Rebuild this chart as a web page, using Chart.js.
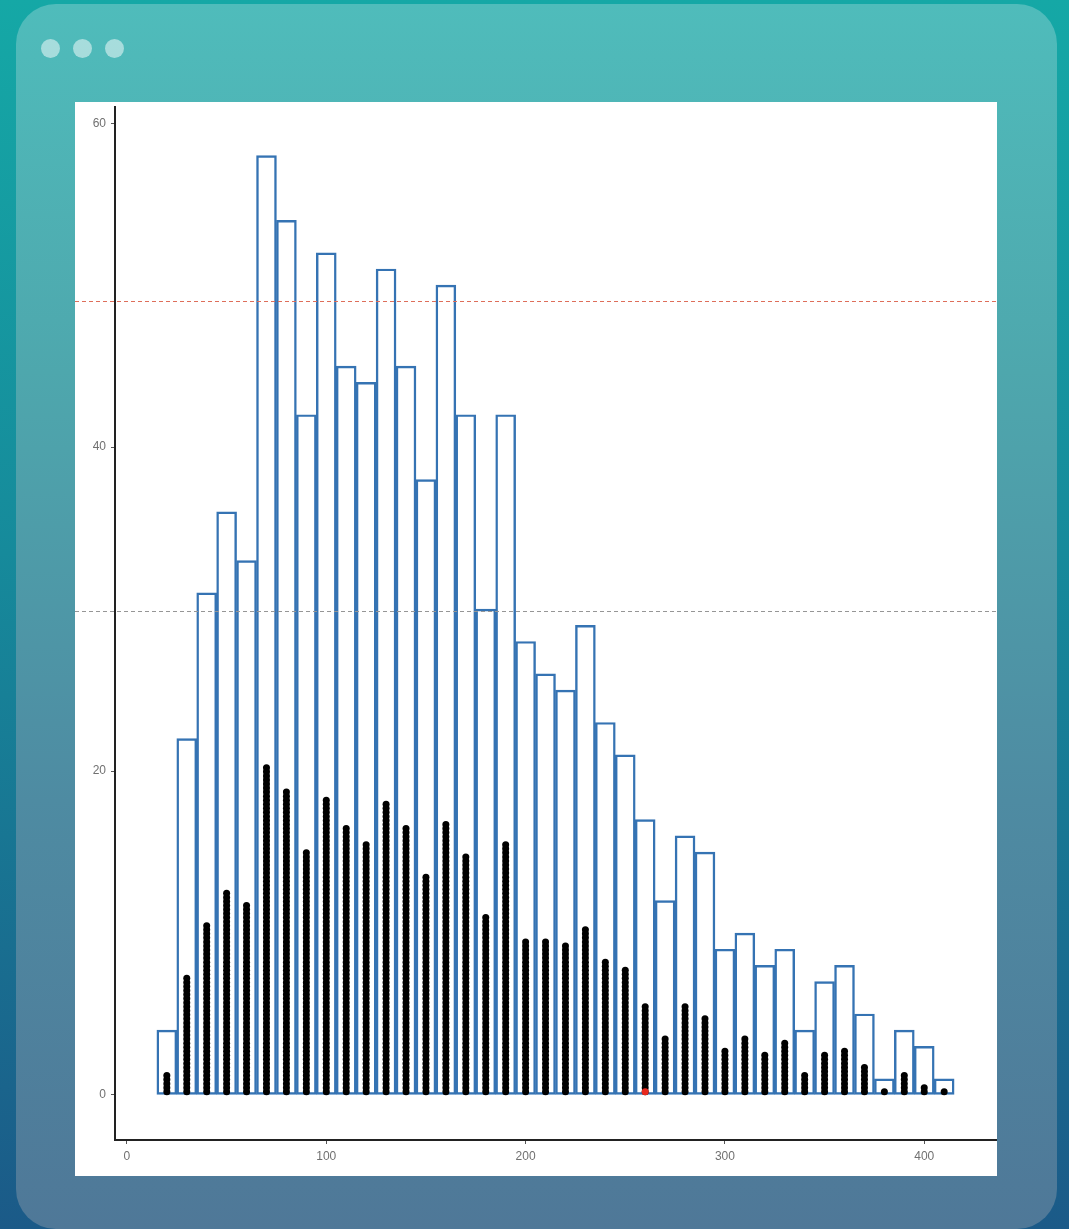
<!DOCTYPE html>
<html>
<head>
<meta charset="utf-8">
<script src="https://cdn.jsdelivr.net/npm/chart.js@4.4.0/dist/chart.umd.min.js"></script>
<style>
html,body{margin:0;padding:0;}
body{width:1069px;height:1229px;overflow:hidden;position:relative;
  background:linear-gradient(180deg,#15a8a6 0%,#168a9b 45%,#1b5a88 100%);
  font-family:"Liberation Sans",Arial,sans-serif;}
.card{position:absolute;left:16px;top:4px;width:1041px;height:1225px;border-radius:40px;
  background:linear-gradient(180deg,#4fbcbb 0%,#4ea7ad 30%,#4e8ba2 65%,#4f7898 100%);}
.dot{position:absolute;top:39px;width:19px;height:19px;border-radius:50%;background:rgba(255,255,255,0.5);}
.panel{position:absolute;left:75px;top:102px;width:922px;height:1074px;background:#fff;overflow:hidden;}
.panel canvas{position:absolute;left:0;top:0;}
</style>
</head>
<body>
<div class="card"></div>
<div class="dot" style="left:41px"></div>
<div class="dot" style="left:73px"></div>
<div class="dot" style="left:105px"></div>
<div class="panel"><canvas id="myChart" width="925" height="1074"></canvas></div>
<script>
// histogram bins (centre of each 10-wide bin) and their counts
let binCenters = [20,30,40,50,60,70,80,90,100,110,120,130,140,150,160,170,180,190,200,210,
                  220,230,240,250,260,270,280,290,300,310,320,330,340,350,360,370,380,390,400,410]
let binCounts = [4,22,31,36,33,58,54,42,52,45,44,51,45,38,50,42,30,42,28,26,
                 25,29,23,21,17,12,16,15,9,10,8,9,4,7,8,5,1,4,3,1]
// number of stacked dots drawn in each bin
let dotCounts = [5,29,42,50,47,81,75,60,73,66,62,72,66,54,67,59,44,62,38,38,
                 37,41,33,31,22,14,22,19,11,14,10,13,5,10,11,7,1,5,2,1]
let redBin = 260
let refValues = [49, 29.9]
let refColors = ['rgb(222,110,90)', 'rgb(150,150,150)']
let xTicks = [0,100,200,300,400]
let yTicks = [0,20,40,60]

const dotStep = 0.25
const dotBase = 0.2

let dots = []
binCenters.forEach((c,i)=>{
    for(let k=0;k<dotCounts[i];k++){
        dots.push({x:c, y:dotBase + k*dotStep})
    }
})

// dashed reference lines, run over the whole panel width
const refLines = {
    id:'refLines',
    afterDatasetsDraw(chart){
        const ctx = chart.ctx, y = chart.scales.y
        refValues.forEach((v,i)=>{
            const py = Math.round(y.getPixelForValue(v))
            ctx.save()
            ctx.fillStyle = refColors[i]
            for(let x=0; x<chart.width; x+=7){
                ctx.fillRect(x, py, 4, 1)
            }
            ctx.restore()
        })
    }
}

const axisStyle = (min,max,ticks,fit)=>({
    type:'linear',
    min:min,
    max:max,
    offset:false,
    afterBuildTicks: s=>{ s.ticks = ticks.map(v=>({value:v})) },
    afterFit: s=>{
        fit(s)
        s.paddingTop = 0
        s.paddingBottom = 0
        s.paddingLeft = 0
        s.paddingRight = 0
    },
    grid:{display:true, offset:false, drawOnChartArea:false, drawTicks:true, tickLength:4, color:'#555', lineWidth:1},
    border:{display:true, color:'#222', width:2},
    ticks:{color:'#707070', font:{size:12, family:'"Liberation Sans", Arial, sans-serif'}, padding:5, maxRotation:0}
})

new Chart(document.getElementById('myChart'), {
    type:'bar',
    data:{
        datasets:[
            {
                type:'scatter',
                data:[{x:redBin, y:dotBase}],
                pointRadius:3.5,
                pointBackgroundColor:'#e8281e',
                pointBorderWidth:0,
                order:0
            },
            {
                type:'scatter',
                data:dots,
                pointRadius:3.5,
                pointBackgroundColor:'#000',
                pointBorderWidth:0,
                order:1
            },
            {
                type:'bar',
                data:binCenters.map((c,i)=>({x:c, y:binCounts[i]})),
                backgroundColor:'rgba(255,255,255,0)',
                borderColor:'#3573b3',
                borderWidth:1.8,
                borderSkipped:false,
                barPercentage:1,
                categoryPercentage:1,
                order:2
            }
        ]
    },
    options:{
        responsive:false,
        animation:false,
        layout:{padding:{top:5,left:0,right:0,bottom:0}},
        plugins:{legend:{display:false}, tooltip:{enabled:false}},
        scales:{
            x: axisStyle(-6, 436, xTicks, s=>{ s.height = 36 }),
            y: axisStyle(-2.78, 61, yTicks, s=>{ s.width = 40 })
        }
    },
    plugins:[refLines]
})
</script>
</body>
</html>
